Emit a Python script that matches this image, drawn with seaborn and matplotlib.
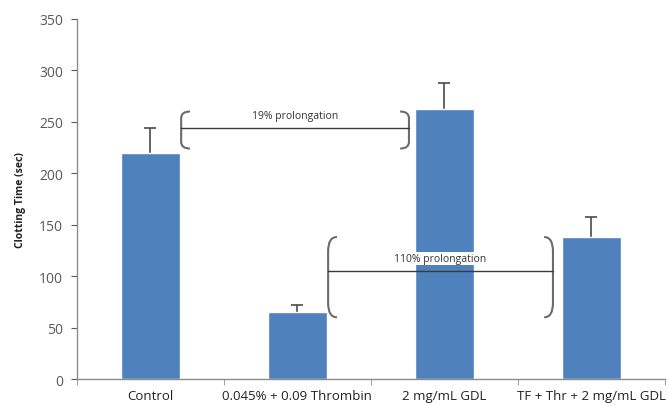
import pandas as pd
import numpy as np
import matplotlib.pyplot as plt
import seaborn as sns
from matplotlib.path import Path
from matplotlib.patches import PathPatch

# data
groups = ['Control', '0.045% + 0.09 Thrombin', '2 mg/mL GDL', 'TF + Thr + 2 mg/mL GDL']
clot_time = [220, 65, 262, 138]
clot_err = [24, 7, 26, 19]

# bracket annotations: (x left, x right, y bottom, y top, y line, label)
notes = [
    (0.21, 1.76, 224, 260, 244, '19% prolongation'),
    (1.21, 2.74, 60, 138, 105, '110% prolongation'),
]

df = pd.DataFrame({'group': groups, 'time': clot_time})

sns.set_style('white')
plt.rcParams['font.family'] = ['Open Sans', 'DejaVu Sans']

fig = plt.figure(figsize=(6.68, 4.06), dpi=100)
ax = fig.add_axes([0.115, 0.064, 0.88, 0.887])

sns.barplot(data=df, x='group', y='time', color='#4F81BD', width=0.4,
            saturation=1, errorbar=None, ax=ax, zorder=2)
# symmetric bars drawn behind, so only the upper half shows (Excel style)
ax.errorbar(range(len(groups)), clot_time, yerr=clot_err,
            fmt='none', ecolor='#4a4a4a', elinewidth=1.2, capsize=4, capthick=1.2,
            zorder=1)


def bracket(x0, x1, y0, y1):
    # parentheses shaped ends
    dx = 0.06
    r = (y1 - y0) * 0.18
    for x, s in [(x0, 1), (x1, -1)]:
        verts = [(x + s * dx, y1), (x, y1), (x, y1 - r),
                 (x, y0 + r), (x, y0), (x + s * dx, y0)]
        codes = [Path.MOVETO, Path.CURVE3, Path.CURVE3,
                 Path.LINETO, Path.CURVE3, Path.CURVE3]
        ax.add_patch(PathPatch(Path(verts, codes), fill=False,
                               edgecolor='#6b6b6b', lw=1.5, zorder=4))


for x0, x1, y0, y1, yl, label in notes:
    bracket(x0, x1, y0, y1)
    ax.plot([x0, x1], [yl, yl], color='#3a3a3a', lw=1, zorder=4)
    ax.text((x0 + x1) / 2, yl + 12, label, ha='center', va='center', fontsize=7.5,
            color='#333333', zorder=5,
            bbox=dict(facecolor='white', edgecolor='none', pad=1))

ax.set_xlim(-0.5, 3.5)
ax.set_ylim(0, 350)
ax.set_yticks(range(0, 351, 50))
ax.set_xlabel('')
ax.set_ylabel('Clotting Time (sec)', fontsize=7.5, fontweight='bold', color='#222222',
              labelpad=9)
ax.tick_params(axis='y', labelsize=10, colors='#595959', length=4, direction='out',
               left=True, pad=6)
ax.tick_params(axis='x', labelsize=9.5, colors='#222222', length=0, pad=7)
ax.set_xticks(np.arange(-0.5, 3.6, 1), minor=True)
ax.tick_params(axis='x', which='minor', length=4, direction='out', color='#8c8c8c', bottom=True)
for lab in ax.get_yticklabels():
    lab.set_color('#595959')

sns.despine(ax=ax)
for side in ['left', 'bottom']:
    ax.spines[side].set_color('#8c8c8c')
    ax.spines[side].set_linewidth(1)

fig.savefig('out.png', dpi=100)
